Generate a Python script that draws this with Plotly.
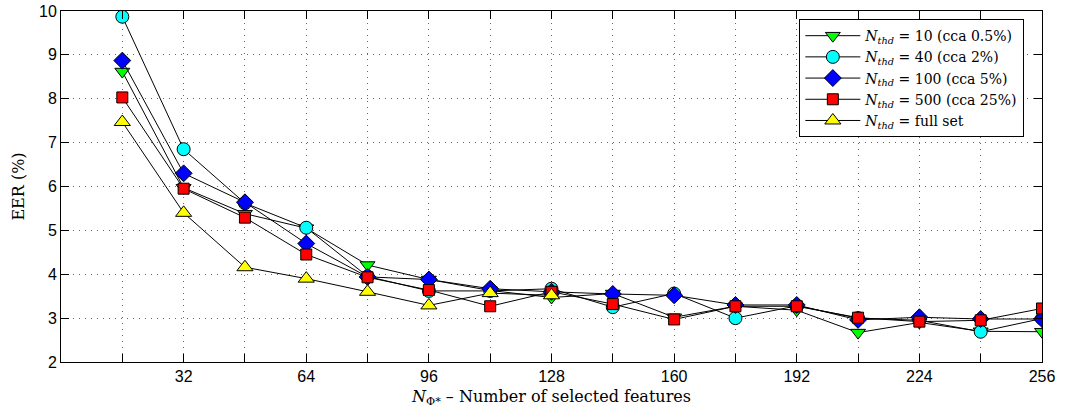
import plotly.graph_objects as go

x_vals = [16, 32, 48, 64, 80, 96, 112, 128, 144, 160, 176, 192, 208, 224, 240, 256]
x_full = [16, 32, 48, 64, 80, 96, 112, 128]

eer_10 = [8.62, 5.97, 5.38, 5.05, 4.21, 3.88, 3.63, 3.47, 3.56, 3.02, 3.27, 3.18, 2.67, 2.90, 2.70, 2.69]
eer_40 = [9.87, 6.85, 5.62, 5.06, 3.95, 3.62, 3.62, 3.67, 3.25, 3.56, 3.00, 3.28, 3.00, 2.95, 2.69, 2.99]
eer_100 = [8.87, 6.30, 5.64, 4.70, 3.94, 3.88, 3.67, 3.60, 3.55, 3.52, 3.30, 3.30, 2.96, 3.02, 2.98, 2.98]
eer_500 = [8.03, 5.95, 5.29, 4.45, 3.93, 3.64, 3.27, 3.60, 3.32, 2.97, 3.27, 3.27, 3.01, 2.92, 2.95, 3.22]
eer_full = [7.47, 5.40, 4.16, 3.90, 3.60, 3.29, 3.57, 3.52]

names = [
    "<i>N<sub>thd</sub></i> = 10 (cca 0.5%)",
    "<i>N<sub>thd</sub></i> = 40 (cca 2%)",
    "<i>N<sub>thd</sub></i> = 100 (cca 5%)",
    "<i>N<sub>thd</sub></i> = 500 (cca 25%)",
    "<i>N<sub>thd</sub></i> = full set",
]

x_major = [32, 64, 96, 128, 160, 192, 224, 256]
x_minor = [16, 48, 80, 112, 144, 176, 208, 240]
y_ticks = [2, 3, 4, 5, 6, 7, 8, 9, 10]

series = [
    (x_vals, eer_10, "triangle-down", "#00ff00", 13),
    (x_vals, eer_40, "circle", "#00ffff", 13),
    (x_vals, eer_100, "diamond", "#0000ff", 13),
    (x_vals, eer_500, "square", "#ff0000", 11),
    (x_full, eer_full, "triangle-up", "#ffff00", 14),
]

fig = go.Figure()
for (xs, ys, sym, col, sz), nm in zip(series, names):
    fig.add_trace(go.Scatter(
        x=xs, y=ys, mode="lines+markers", name=nm,
        line=dict(color="black", width=1),
        marker=dict(symbol=sym, color=col, size=sz, line=dict(color="black", width=1)),
    ))

grid_style = dict(gridcolor="#666666", griddash="1px,5px", gridwidth=1)

axis_common = dict(
    showline=True, linecolor="black", linewidth=1, mirror="ticks",
    ticks="inside", ticklen=8, tickcolor="black",
    showgrid=True, zeroline=False, automargin=False,
    tickfont=dict(family="Liberation Sans, Arial, sans-serif", size=16, color="black"),
    **grid_style,
)

fig.update_xaxes(
    range=[0, 256], tickvals=x_major,
    minor=dict(tickvals=x_minor, ticks="inside", ticklen=8, tickcolor="black",
               showgrid=True, **grid_style),
    title=dict(text="<i>N</i><sub>Φ*</sub> – Number of selected features",
               font=dict(family="DejaVu Serif, serif", size=16, color="black"), standoff=6),
    **axis_common,
)
fig.update_yaxes(
    range=[2, 10], tickvals=y_ticks,
    title=dict(text="EER (%)", font=dict(family="DejaVu Serif, serif", size=16, color="black"), standoff=10),
    **axis_common,
)

fig.update_layout(
    width=1068, height=414,
    margin=dict(l=61, r=26, t=11, b=52),
    plot_bgcolor="white", paper_bgcolor="white",
    showlegend=True,
    legend=dict(
        x=0.982, y=0.977, xanchor="right", yanchor="top",
        bgcolor="white", bordercolor="black", borderwidth=1,
        font=dict(family="DejaVu Serif, serif", size=14, color="black"),
        tracegroupgap=0, itemwidth=55,
    ),
)

fig.write_html("out.html", config={"displayModeBar": False},
               post_script="document.body.style.margin='0';")
